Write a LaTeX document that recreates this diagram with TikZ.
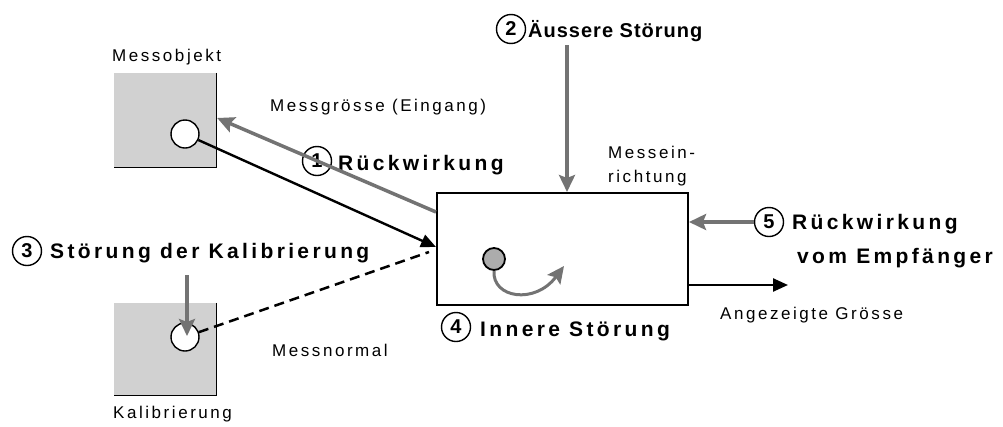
\documentclass[tikz,border=0pt]{standalone}
\usepackage{fontspec}
\setmainfont{Liberation Sans}
\newfontfamily\lblfont[LetterSpace=15]{Liberation Sans}
\newfontfamily\hdrfont[LetterSpace=16]{Liberation Sans}
\newfontfamily\hdrtightfont[LetterSpace=5]{Liberation Sans}
\usetikzlibrary{arrows.meta,calc}
\definecolor{shade}{gray}{0.82}
\definecolor{greyarrow}{gray}{0.45}
\begin{document}
\begin{tikzpicture}[x=1pt,y=-1pt,
  txt/.style={font=\lblfont\fontsize{17}{19}\selectfont, inner sep=0pt, anchor=base west},
  head/.style={font=\hdrfont\bfseries\fontsize{21}{25}\selectfont, inner sep=0pt, anchor=base west},
  num/.style={circle, draw, line width=1.4pt, minimum size=29pt, inner sep=0pt,
    font=\bfseries\fontsize{20}{20}\selectfont},
  panel/.style={fill=shade, minimum width=102pt, inner sep=0pt},
  port/.style={circle, draw, line width=1.4pt, fill=white, minimum size=28pt, inner sep=0pt},
  greyline/.style={draw=greyarrow, line width=3.5pt,
    -{Stealth[length=17pt,width=16pt,inset=3pt]}},
  blackline/.style={line width=2.4pt, -{Triangle[length=15pt,width=13pt]}},
  dashline/.style={line width=2.5pt, dash pattern=on 10pt off 6pt},
]
\useasboundingbox (0,0) rectangle (1003,426);

% object under measurement and calibration standard
\node[panel, minimum height=94pt] (mobj) at (165,120) {};
\draw[line width=1.2pt] (mobj.north east) -- (mobj.south east) -- (mobj.south west);
\node[port] (mobjc) at (185,134) {};
\node[txt] (tobj) at (112,61) {Messobjekt};

\node[panel, minimum height=92pt] (kal) at (165,349) {};
\draw[line width=1.2pt] (kal.north east) -- (kal.south east) -- (kal.south west);
\node[port] (kalc) at (185,337) {};
\node[txt] (tkal) at (113,418) {Kalibrierung};

% measuring device
\node[draw, line width=2pt, minimum width=251pt, minimum height=112pt, inner sep=0pt]
  (dev) at (562.5,249) {};
\node[circle, draw, line width=1.8pt, fill=gray!65, minimum size=22pt, inner sep=0pt]
  (inner) at (494,259) {};
\node[txt] (tdev1) at (608,158) {Messein-};
\node[txt] (tdev2) at (608,182) {richtung};

% labels
\node[txt] (tin) at (270,111) {Messgrösse (Eingang)};
\node[txt] (tnorm) at (272,356) {Messnormal};
\node[txt] (tout) at (720,319) {Angezeigte Grösse};

\node[num] (n1) at (317,161) {1};
\node[head] (h1) at (338,170) {Rückwirkung};
\node[num] (n2) at (511,29) {2};
\node[head, font=\hdrtightfont\bfseries\fontsize{20}{24}\selectfont] (h2) at (528,37) {Äussere Störung};
\node[num] (n3) at (27,251) {3};
\node[head] (h3) at (50,258) {Störung der Kalibrierung};
\node[num] (n4) at (456,327) {4};
\node[head] (h4) at (480,336) {Innere Störung};
\node[num] (n5) at (769,222) {5};
\node[head] (h5a) at (792,229) {Rückwirkung};
\node[head] (h5b) at (797,263) {vom Empfänger};

% free ends of the disturbance arrows
\coordinate (s2) at (567,45);
\coordinate (s3) at (187,275);
\coordinate (out) at (788,285);

% connectors
\draw[greyline] ($(dev.north west)+(0,20)$) -- ($(mobj.east)+(1,-2)$);
\draw[blackline] (mobjc) -- ($(dev.west)+(0,-2)$);
\draw[dashline] (kalc) -- ($(dev.west)+(-7,3)$);
\draw[greyline] (s3) -- ($(kalc.center)+(2,-1)$);
\draw[greyline] (s2) -- ($(dev.north)+(4.5,0)$);
\draw[greyline] (n5) -- (dev.east |- n5);
\draw[blackline] ($(dev.east)+(0,36)$) -- (out);
\draw[greyline, line width=3pt] (inner.south) .. controls (492,298) and (535,305) .. (564,266);
\end{tikzpicture}
\end{document}
